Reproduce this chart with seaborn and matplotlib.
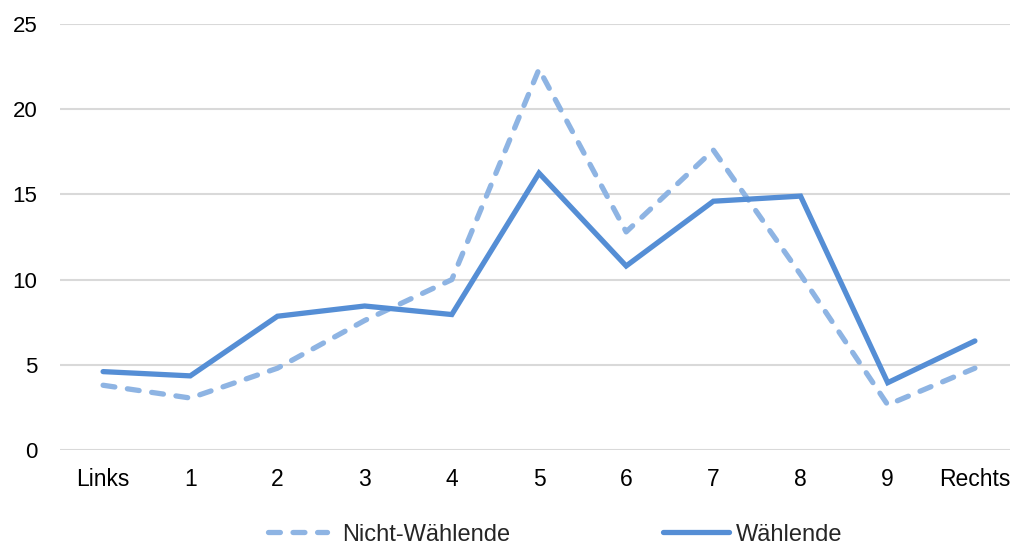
import pandas as pd
import matplotlib
matplotlib.use("Agg")
import matplotlib.pyplot as plt
from matplotlib.lines import Line2D
import seaborn as sns

# data
kategorien = ["Links", "1", "2", "3", "4", "5", "6", "7", "8", "9", "Rechts"]
waehlende = [4.6, 4.35, 7.85, 8.45, 7.95, 16.25, 10.8, 14.6, 14.9, 3.95, 6.4]
nicht_waehlende = [3.8, 3.05, 4.8, 7.6, 10.0, 22.35, 12.8, 17.6, 10.3, 2.65, 4.8]
serien = ["Nicht-Wählende", "Wählende"]

df = pd.DataFrame({
    "Kategorie": kategorien * 2,
    "Wert": nicht_waehlende + waehlende,
    "Gruppe": [serien[0]] * len(kategorien) + [serien[1]] * len(kategorien),
})

sns.set_theme(style="white")
plt.rcParams["font.family"] = ["Liberation Sans", "DejaVu Sans"]

fig = plt.figure(figsize=(10.1, 5.46), dpi=100)
ax = fig.add_axes([59.5 / 1010, 96 / 546, 959 / 1010, 426 / 546])

farben = {"Nicht-Wählende": "#8EB4E3", "Wählende": "#558ED5"}
striche = {"Nicht-Wählende": (2.25, 2.4), "Wählende": ""}
lw = 3.8

sns.lineplot(data=df, x="Kategorie", y="Wert", hue="Gruppe", style="Gruppe",
             hue_order=serien, style_order=serien, palette=farben, dashes=striche,
             linewidth=lw, sort=False, ax=ax, legend=False)

for line in ax.lines:
    line.set_dash_capstyle("round")
    line.set_solid_capstyle("round")
    line.set_solid_joinstyle("miter")

ax.set_xlim(-0.5, len(kategorien) - 0.5)
ax.set_ylim(0, 25)
ax.set_yticks([0, 5, 10, 15, 20, 25])
ax.yaxis.grid(True, color="#D9D9D9", linewidth=1.5)
ax.set_axisbelow(True)
for s in ax.spines.values():
    s.set_visible(False)
ax.set_xlabel("")
ax.set_ylabel("")
ax.tick_params(axis="y", length=0, pad=16, labelsize=16, labelcolor="black")
ax.tick_params(axis="x", length=0, pad=13, labelsize=16.5, labelcolor="black")

# legend: two separate entries, placed like the original
h1 = Line2D([], [], color=farben[serien[0]], linewidth=lw, dashes=striche[serien[0]],
            dash_capstyle="round")
h2 = Line2D([], [], color=farben[serien[1]], linewidth=lw, solid_capstyle="round")
fig.legend([h1], [serien[0]], loc="center left", bbox_to_anchor=(267.5 / 1010, 0.021),
           frameon=False, fontsize=17, handlelength=2.54, handletextpad=0.62,
           borderaxespad=0, borderpad=0)
fig.legend([h2], [serien[1]], loc="center left", bbox_to_anchor=(662.5 / 1010, 0.021),
           frameon=False, fontsize=17, handlelength=2.83, handletextpad=0.28,
           borderaxespad=0, borderpad=0)

fig.savefig("out.png", dpi=100)
